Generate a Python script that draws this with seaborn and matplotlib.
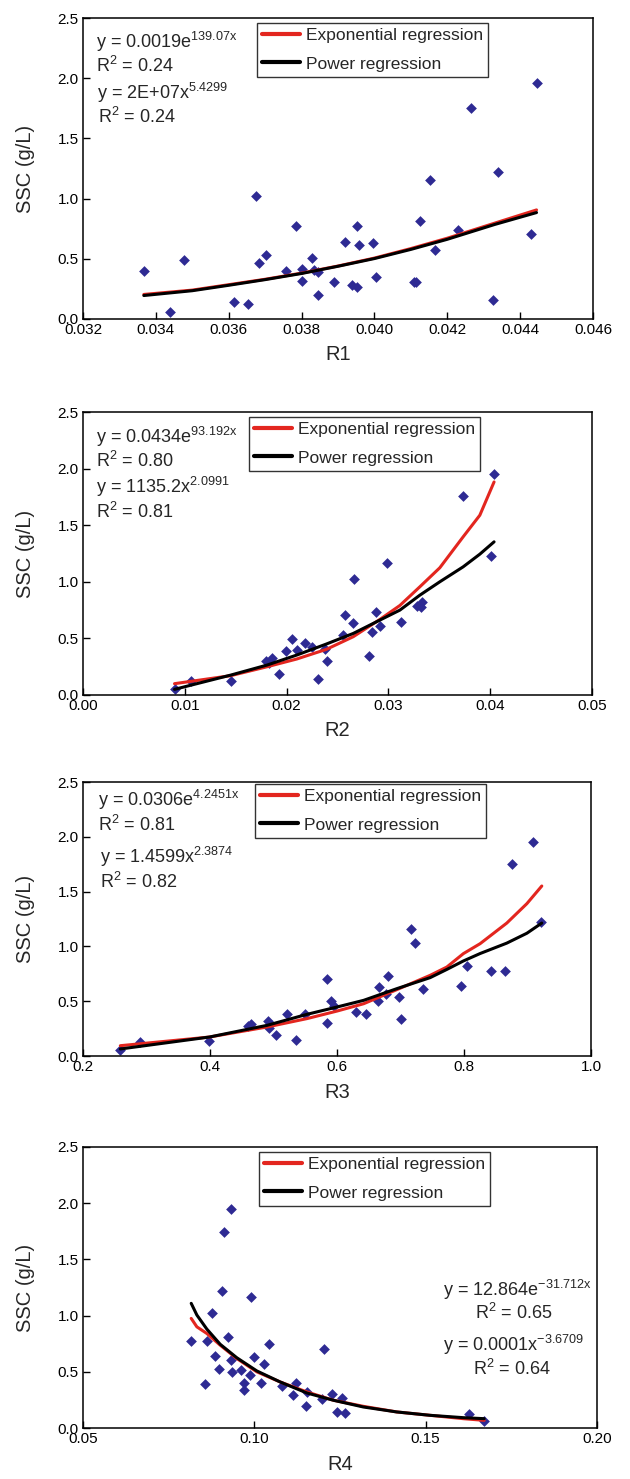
import numpy as np
import pandas as pd
import matplotlib
matplotlib.use("Agg")
import matplotlib.pyplot as plt
import seaborn as sns

# ---- data ----
# R1
r1_x = [0.03367, 0.0344, 0.03476, 0.03615, 0.03654, 0.03676, 0.03684, 0.03702, 0.03758, 0.03785,
        0.0380, 0.03802, 0.03829, 0.03833, 0.03844, 0.03844, 0.03888, 0.03918, 0.03939, 0.03953,
        0.03957, 0.03953, 0.03996, 0.04005, 0.0411, 0.04115, 0.04125, 0.04152, 0.04166, 0.04229,
        0.04266, 0.04325, 0.0434, 0.0443, 0.04445]
r1_y = [0.398, 0.058, 0.494, 0.141, 0.127, 1.019, 0.464, 0.533, 0.400, 0.776,
        0.417, 0.315, 0.508, 0.403, 0.387, 0.199, 0.304, 0.641, 0.279, 0.776,
        0.613, 0.265, 0.630, 0.345, 0.304, 0.304, 0.818, 1.155, 0.575, 0.740,
        1.754, 0.155, 1.224, 0.707, 1.956]
r1_fit_x = [0.03367, 0.0350, 0.0360, 0.0370, 0.0380, 0.0390, 0.0400, 0.0410, 0.0420, 0.0433, 0.04445]
r1_exp = [0.204, 0.240, 0.285, 0.330, 0.381, 0.440, 0.506, 0.585, 0.671, 0.796, 0.906]
r1_pow = [0.195, 0.235, 0.280, 0.327, 0.378, 0.438, 0.502, 0.578, 0.662, 0.785, 0.884]

# R2
r2_x = [0.00899, 0.01063, 0.01452, 0.01799, 0.01854, 0.01831, 0.01929, 0.01991, 0.02054, 0.02103,
        0.02178, 0.02247, 0.02312, 0.02377, 0.02397, 0.02574, 0.02557, 0.02649, 0.02665, 0.02806,
        0.02835, 0.02878, 0.02917, 0.02986, 0.03123, 0.03277, 0.03316, 0.03326, 0.03734, 0.04012,
        0.04038]
r2_y = [0.053, 0.121, 0.126, 0.300, 0.324, 0.279, 0.185, 0.388, 0.491, 0.394,
        0.462, 0.421, 0.141, 0.409, 0.300, 0.703, 0.529, 0.632, 1.021, 0.344,
        0.556, 0.735, 0.612, 1.165, 0.647, 0.785, 0.774, 0.818, 1.756, 1.224,
        1.956]
r2_fit_x = [0.00899, 0.01452, 0.0181, 0.0210, 0.0239, 0.02655, 0.02917, 0.03113, 0.03309, 0.03505,
            0.03734, 0.03898, 0.04038]
r2_exp = [0.100, 0.171, 0.250, 0.318, 0.403, 0.515, 0.668, 0.791, 0.956, 1.124, 1.397, 1.588, 1.882]
r2_pow = [0.050, 0.176, 0.265, 0.353, 0.450, 0.544, 0.662, 0.750, 0.882, 1.000, 1.132, 1.244, 1.353]

# R3
r3_x = [0.2588, 0.2892, 0.3989, 0.4592, 0.4644, 0.4912, 0.4922, 0.5043, 0.5216, 0.5358,
        0.5489, 0.5835, 0.5841, 0.5909, 0.5946, 0.6302, 0.6454, 0.6643, 0.6659, 0.6774,
        0.6811, 0.6979, 0.7005, 0.7173, 0.7231, 0.7352, 0.7955, 0.8044, 0.8427, 0.8648,
        0.8752, 0.9093, 0.9220]
r3_y = [0.058, 0.125, 0.137, 0.274, 0.295, 0.316, 0.259, 0.195, 0.386, 0.149,
        0.386, 0.700, 0.298, 0.499, 0.456, 0.401, 0.386, 0.502, 0.627, 0.569,
        0.730, 0.535, 0.341, 1.162, 1.028, 0.611, 0.639, 0.818, 0.776, 0.776,
        1.755, 1.953, 1.220]
r3_fit_x = [0.2588, 0.399, 0.490, 0.5526, 0.600, 0.642, 0.694, 0.7467, 0.773, 0.799,
            0.8254, 0.8674, 0.899, 0.9225]
r3_exp = [0.094, 0.173, 0.265, 0.341, 0.410, 0.477, 0.605, 0.736, 0.812, 0.934,
          1.025, 1.213, 1.390, 1.551]
r3_pow = [0.064, 0.173, 0.280, 0.380, 0.447, 0.508, 0.614, 0.715, 0.790, 0.867,
          0.935, 1.030, 1.120, 1.213]

# R4
r4_x = [0.08158, 0.08566, 0.08614, 0.0877, 0.08847, 0.08983, 0.09042, 0.0912, 0.09226, 0.09313,
        0.09343, 0.09313, 0.09605, 0.09712, 0.09712, 0.09877, 0.09906, 0.09994, 0.10188, 0.10275,
        0.10431, 0.1082, 0.11121, 0.11208, 0.1150, 0.11539, 0.11985, 0.12044, 0.12277, 0.12403,
        0.12568, 0.12646, 0.1627, 0.16707]
r4_y = [0.773, 0.392, 0.773, 1.020, 0.639, 0.526, 1.222, 1.745, 0.812, 1.950,
        0.500, 0.609, 0.514, 0.401, 0.336, 0.470, 1.162, 0.630, 0.404, 0.568,
        0.743, 0.372, 0.291, 0.401, 0.193, 0.321, 0.259, 0.702, 0.306, 0.143,
        0.270, 0.134, 0.122, 0.059]
r4_fit_x = [0.08158, 0.08323, 0.08614, 0.09003, 0.09489, 0.10071, 0.10751, 0.11529, 0.12306, 0.1318,
            0.14152, 0.15123, 0.16095, 0.16707]
r4_exp = [0.975, 0.900, 0.841, 0.737, 0.618, 0.500, 0.410, 0.321, 0.247, 0.193,
          0.143, 0.113, 0.083, 0.068]
r4_pow = [1.109, 1.005, 0.880, 0.745, 0.625, 0.508, 0.410, 0.312, 0.247, 0.187,
          0.143, 0.113, 0.092, 0.083]

x_labels = ["R1", "R2", "R3", "R4"]
x_limits = [(0.032, 0.046), (0.0, 0.05), (0.2, 1.0), (0.05, 0.20)]
x_ticks = [np.arange(0.032, 0.0461, 0.002), np.arange(0.0, 0.051, 0.01),
           np.arange(0.2, 1.01, 0.2), np.arange(0.05, 0.201, 0.05)]
x_fmt = ["{:.3f}", "{:.2f}", "{:.1f}", "{:.2f}"]
y_ticks = [0.0, 0.5, 1.0, 1.5, 2.0, 2.5]

equations = [
    ["y = 0.0019e$^{139.07x}$", "R$^{2}$ = 0.24", "y = 2E+07x$^{5.4299}$", "R$^{2}$ = 0.24"],
    ["y = 0.0434e$^{93.192x}$", "R$^{2}$ = 0.80", "y = 1135.2x$^{2.0991}$", "R$^{2}$ = 0.81"],
    ["y = 0.0306e$^{4.2451x}$", "R$^{2}$ = 0.81", "y = 1.4599x$^{2.3874}$", "R$^{2}$ = 0.82"],
    ["y = 12.864e$^{-31.712x}$", "R$^{2}$ = 0.65", "y = 0.0001x$^{-3.6709}$", "R$^{2}$ = 0.64"],
]

panels = [
    (r1_x, r1_y, r1_fit_x, r1_exp, r1_pow),
    (r2_x, r2_y, r2_fit_x, r2_exp, r2_pow),
    (r3_x, r3_y, r3_fit_x, r3_exp, r3_pow),
    (r4_x, r4_y, r4_fit_x, r4_exp, r4_pow),
]

# ---- style ----
sns.set_style("ticks")
plt.rcParams['font.family'] = ['Liberation Sans', 'DejaVu Sans']
plt.rcParams['mathtext.fontset'] = 'custom'
plt.rcParams['mathtext.rm'] = 'Liberation Sans'
plt.rcParams['mathtext.it'] = 'Liberation Sans'
plt.rcParams['mathtext.bf'] = 'Liberation Sans:bold'

W, H = 630, 1479
fig = plt.figure(figsize=(W / 100, H / 100), dpi=100)

# axes boxes in pixels: left, top, right, bottom
boxes = [(83, 18, 593, 319), (83, 412, 592, 695), (83, 782, 591, 1056), (83, 1147, 597, 1428)]
# legend upper-left corners in pixels
leg_pos = [(257, 23), (249, 417), (255, 784), (259, 1152)]
# equation text anchors in pixels (x, y)
eq_pos = [
    [(96, 42), (96, 66), (97, 93), (98, 117)],
    [(96, 437), (96, 461), (96, 487), (96, 512)],
    [(98, 800), (98, 825), (100, 857), (100, 882)],
    [(443, 1290), (475, 1313), (443, 1345), (473, 1369)],
]

marker_color = '#2e2a93'
red = '#e3261f'

for i, (xs, ys, fx, fe, fp) in enumerate(panels):
    l, t, r, b = boxes[i]
    ax = fig.add_axes([l / W, 1 - b / H, (r - l) / W, (b - t) / H])

    pts = pd.DataFrame({'x': xs, 'y': ys})
    fit = pd.DataFrame({'x': fx, 'exp': fe, 'pow': fp})

    sns.scatterplot(data=pts, x='x', y='y', ax=ax, marker='D', s=30,
                    color=marker_color, linewidth=0, zorder=2)
    sns.lineplot(data=fit, x='x', y='exp', ax=ax, color=red, lw=2.2,
                 estimator=None, label='Exponential regression', zorder=3)
    sns.lineplot(data=fit, x='x', y='pow', ax=ax, color='black', lw=2.2,
                 estimator=None, label='Power regression', zorder=4)

    ax.set_xlim(*x_limits[i])
    ax.set_ylim(0, 2.5)
    ax.set_xticks(x_ticks[i])
    ax.set_xticklabels([x_fmt[i].format(v) for v in x_ticks[i]])
    ax.set_yticks(y_ticks)
    ax.set_yticklabels(["{:.1f}".format(v) for v in y_ticks])
    ax.tick_params(direction='in', length=5, width=1, labelsize=11, pad=3, colors='black')
    for sp in ax.spines.values():
        sp.set_linewidth(1.1)
        sp.set_color('black')

    ax.set_xlabel(x_labels[i], fontsize=14.5, labelpad=6)
    ax.set_ylabel('SSC (g/L)', fontsize=14.5, labelpad=16)

    lx, ly = leg_pos[i]
    leg = ax.legend(loc='upper left',
                    bbox_to_anchor=((lx - l) / (r - l), 1 - (ly - t) / (b - t)),
                    borderaxespad=0, frameon=True, fancybox=False, fontsize=12.5,
                    handlelength=2.2, handletextpad=0.3, labelspacing=0.75,
                    borderpad=0.3, edgecolor='black')
    leg.get_frame().set_linewidth(1.0)
    for ln in leg.get_lines():
        ln.set_linewidth(3)

    for txt, (px, py) in zip(equations[i], eq_pos[i]):
        ax.text((px - l) / (r - l), 1 - (py - t) / (b - t), txt, transform=ax.transAxes,
                ha='left', va='center', fontsize=13)

fig.savefig('out.png', dpi=100)
